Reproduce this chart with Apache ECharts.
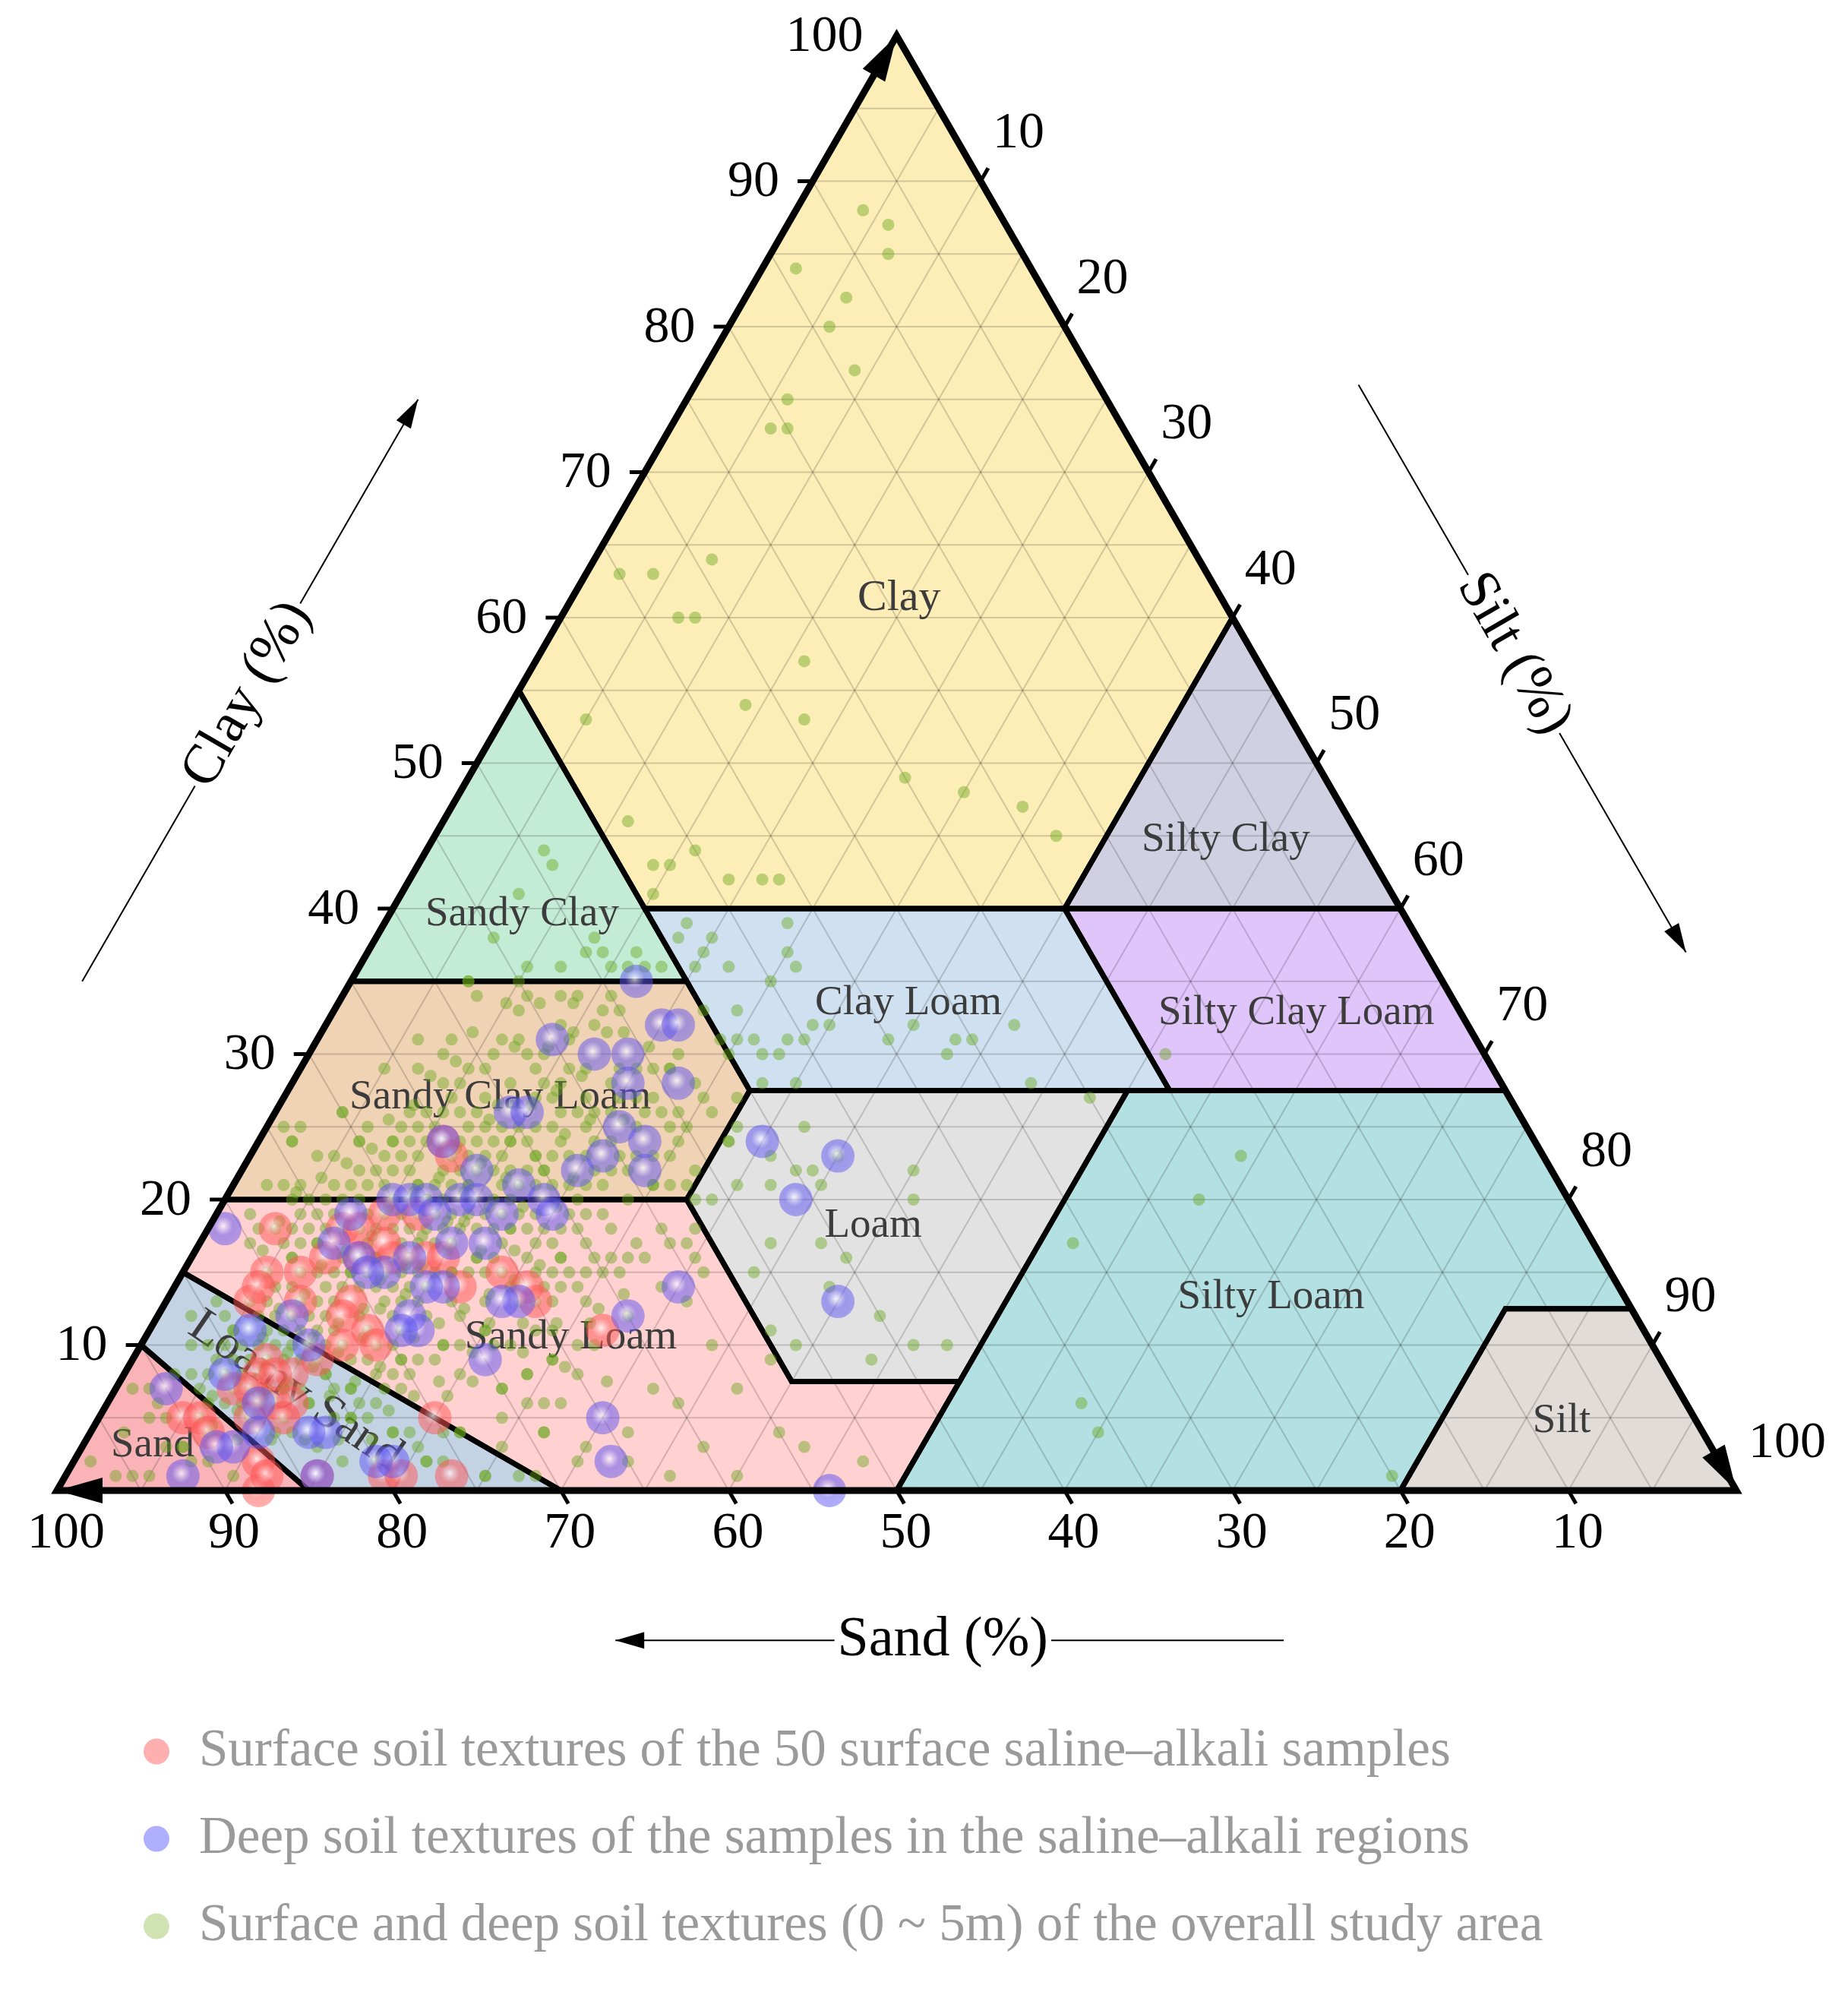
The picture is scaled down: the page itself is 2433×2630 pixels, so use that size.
<!DOCTYPE html>
<html><head><meta charset="utf-8">
<script src="https://cdn.jsdelivr.net/npm/echarts@6/dist/echarts.min.js"></script>
<style>html,body{margin:0;padding:0;background:#fff;}#chart{width:2433px;height:2630px;}</style>
</head><body><div id="chart"></div>
<script>
// all samples as [sand, silt, clay] (%)
const surfaceSamples = [
[78,4,18],[65,11,24],[65,12,23],[69,12,19],[71,10,19],[74,8,18],[76,8,16],[72,12,16],[70,14,16],[69,17,14],
[66,19,15],[65,22,13],[80,5,15],[82,5,13],[76,11,13],[77,11,12],[76,13,11],[76,14,10],[78,12,10],[80,11,9],
[82,10,8],[83,8,9],[84,8,8],[83,9,8],[86,7,7],[85,8,7],[83,11,6],[90,5,5],[89,6,5],[86,9,5],
[84,10,6],[75,20,5],[87,11,2],[84,15,1],[76,23,1],[88,12,0],[80,19,1],[73,9,18],[81,5,14],[78,7,15],
[62,27,11],[69,15,16],[72,11,17],[65,21,14],[88,7,4],[84,11,5],[79,20,1],[87,12,1],[74,10,16],[79,8,13]
];
const deepSamples = [
[48,17,35],[48,20,32],[47,21,32],[55,14,31],[53,17,30],[51,19,30],[52,20,28],[49,23,28],[60,14,26],[59,15,26],
[54,21,25],[53,23,24],[56,21,23],[54,24,22],[58,20,22],[65,11,24],[70,10,20],[69,11,20],[68,12,20],[66,14,20],
[65,15,20],[64,17,19],[61,19,20],[61,20,19],[81,1,18],[75,8,17],[74,10,16],[73,12,15],[70,16,14],[66,21,13],
[60,28,12],[56,30,14],[73,16,11],[70,21,9],[65,30,5],[66,32,2],[54,46,0],[46,30,24],[42,35,23],[46,34,20],
[47,40,13],[90,3,7],[92,7,1],[88,9,3],[82,14,4],[79,19,2],[84,15,1],[85,9,6],[86,6,8],[73,8,19],
[67,13,19],[64,14,22],[62,17,21],[68,15,17],[66,17,17],[71,13,16],[74,11,15],[71,15,14],[67,20,13],[73,15,12],
[74,15,11],[80,8,12],[80,10,10],[83,6,11],[89,8,3],[86,10,4],[83,13,4],[80,18,2]
];
const studyAreaSamples = [
[8,4,88],[7,6,87],[8,7,85],[14,2,84],[12,6,82],[13,6,80],[14,9,77],[19,6,75],[21,6,73],[20,7,73],
[29,7,64],[35,2,63],[33,4,63],[33,7,60],[32,8,60],[27,16,57],[32,14,54],[42,5,53],[29,18,53],[25,26,49],
[22,30,48],[19,34,47],[18,37,45],[37,21,42],[36,22,42],[43,11,46],[40,16,44],[42,15,43],[43,14,43],[39,19,42],
[44,15,41],[43,18,39],[44,18,38],[49,13,38],[49,14,37],[47,16,37],[47,17,36],[46,18,36],[55,7,38],[50,13,37],
[54,10,36],[52,12,36],[55,10,35],[58,7,35],[49,7,44],[49,8,43],[52,7,41],[48,16,36],[49,15,36],
[42,22,36],[38,25,37],[38,26,36],[43,20,37],[43,24,33],[43,26,31],[41,28,31],[38,30,32],[35,34,31],[33,35,32],
[27,41,32],[30,39,31],[43,27,30],[42,28,30],[32,38,30],[44,25,31],[45,22,33],[25,48,27],[19,51,30],[39,29,32],
[40,29,31],[40,25,35],[42,30,28],[44,28,28],[45,25,30],[37,24,39],[42,20,38],[44,20,36],[45,24,31],[31,38,31],[28,44,28],
[42,35,23],[43,32,25],[38,40,22],[45,39,16],[47,39,14],[49,34,17],[52,37,11],[45,43,12],[44,46,10],[47,32,21],
[48,28,24],[46,31,23],[49,30,21],[44,34,22],[45,33,22],[52,28,20],[51,29,20],[39,41,20],[45,35,21],[46,37,17],
[51,34,15],[51,39,10],[47,44,9],[42,48,10],
[31,52,17],[22,58,20],[18,59,23],[36,58,6],[36,60,4],[20,79,1],
[52,14,34],[56,11,33],[53,13,34],[50,16,34],[52,16,32],[54,14,32],[50,17,33],[61,8,31],[64,7,29],[61,10,29],
[58,11,31],[59,11,30],[57,14,29],[56,14,30],[54,15,31],[54,17,29],[56,16,28],[63,9,28],[66,8,26],[57,15,28],
[52,19,29],[50,21,29],[49,22,29],[48,24,28],[48,22,30],[51,22,27],[51,23,26],[50,25,25],[48,26,26],[46,27,27],
[47,28,25],[48,28,24],[51,27,22],[53,26,21],[54,25,21],[52,27,21],
[58,8,34],[55,11,34],[51,16,33],[62,8,30],[57,12,31],[55,16,29],[53,19,28],[51,20,29],[49,22,29],[48,25,27],
[70,4,26],[74,1,25],[74,2,24],[70,6,24],[72,5,23],[68,8,24],[67,8,25],[76,3,21],[75,4,21],[65,9,26],
[63,10,27],[62,12,26],[58,15,27],[55,18,27],[52,22,26],[51,25,24],[54,23,23],[56,22,22],[58,18,24],[60,17,23],
[61,15,24],[60,18,22],[64,14,22],[62,17,21],[59,20,21],[57,22,21],[62,13,25],[70,8,22],[68,11,21],
[58,23,19],[58,24,18],[57,26,17],[57,27,16],[54,30,16],[60,24,16],[61,24,15],[59,26,15],[63,23,14],[62,25,13],
[62,21,17],[63,19,18],[67,17,16],[69,16,15],[71,15,14],[66,20,14],[65,22,13],[57,29,14],[56,31,13],[54,31,15],
[55,27,18],[53,29,18],[60,28,12],[73,11,16],[72,13,15],[75,10,15],[78,6,16],[80,5,15],[79,3,18],[76,7,17],
[73,9,18],[70,12,18],[68,14,18],[68,12,20],[71,10,19],[74,7,19],[65,16,19],[64,18,18],
[59,25,16],[55,28,17],[54,29,17],[56,34,10],[56,37,7],[55,41,4],[54,43,3],[60,37,3],[63,36,1],[65,33,2],
[67,30,3],[68,26,6],[61,32,7],[60,34,6],[53,38,9],[59,40,1],[51,47,2],[72,25,3],[74,25,1],[71,28,1],
[65,27,8],[63,27,10],[66,23,11],[69,21,10],[72,20,8],[76,17,7],[78,18,4],[77,21,2],
[75,16,9],[75,17,8],[71,19,10],[69,20,11],[68,24,8],[66,25,9],[64,26,10],[67,27,6],[66,32,4],[68,30,2],
[69,25,6],[69,27,4],[70,23,7],[64,22,14],[61,23,15],[62,22,16],[60,23,17],
[65,11,24],[63,14,23],[61,15,24],[60,17,23],[63,15,22],[61,18,22],[65,14,21],[68,11,21],[66,16,18],[67,15,18],
[64,18,18],[63,20,17],[69,13,18],[71,12,17],[73,10,17],[75,9,16],[76,7,17],[78,6,16],[78,7,15],[74,12,14],
[73,13,14],[68,17,15],[72,15,13],[74,13,13],[77,10,13],[79,9,12],[81,7,12],[82,5,13],[82,8,10],[79,10,11],
[78,12,10],[77,14,9],[75,16,9],[84,5,11],[87,3,10],[86,5,9],[84,7,9],[87,7,6],[89,6,5],[91,6,3],
[85,11,4],[82,12,6],[80,12,8],[79,14,7],[77,16,7],[79,16,5],[77,19,4],[75,21,4],[74,22,4],[71,24,5],
[69,27,4],[70,23,7],[68,24,8],[66,25,9],[73,18,9],[72,18,10],[69,20,11],[68,22,10],[65,24,11],[64,20,16],
[63,22,15],[68,15,17],[70,11,19],[72,8,20],[75,5,20],[76,4,20],[79,2,19],[75,7,18],[65,14,21],[63,17,20],
[61,18,21],[68,8,24],[69,6,25],[74,2,24],[70,6,24],[77,2,21],
[73,2,25],[70,4,26],[66,5,29],[63,6,31],[58,7,35],[68,9,23],[73,4,23],
[97,1,2],[94,2,4],[94,5,1],[91,4,5],[91,7,2],[92,5,3],[90,7,4],[91,2,7],[89,3,8],[92,1,7],
[92,3,5],[91,3,6],[95,4,1],[90,8,2],[89,10,1],[91,6,3],[96,3,1],[88,4,8],
[84,3,13],[86,2,12],[84,5,11],[85,6,9],[80,12,8],[79,14,7],[80,15,5],[78,18,4],[77,21,2],[76,22,2],
[82,16,2],[83,14,3],[80,18,2],[74,25,1],[72,27,1],[74,22,4],[77,20,3],[83,10,7],[85,9,6],[84,12,4],
[66,12,22],[67,13,20],[69,12,19],[70,13,17],[72,12,16],[71,14,15],[73,12,15],[74,10,16],[76,9,15],[77,8,15],
[75,11,14],[76,12,12],[78,10,12],[80,9,11],[81,8,11],[79,11,10],[80,11,9],[82,9,9],[83,8,9],[81,10,9],
[84,8,8],[83,10,7],[85,8,7],[86,8,6],[84,10,6],[62,16,22],[63,16,21],[64,16,20],[65,17,18],[66,18,16],
[67,18,15],[64,12,24],[62,14,24],[60,15,25],[59,16,25],[57,17,26],[58,19,23],[56,20,24],[55,21,24],[53,22,25],
[55,23,22],[57,20,23],[59,22,19],[60,21,19],[61,21,18],[62,20,18],[60,19,21],[67,10,23],[66,10,24],[69,9,22],
[71,8,21],[72,9,19],[73,7,20],[74,8,18],[76,6,18],[77,5,18],[78,4,18],[80,3,17],
[60,16,24],[61,14,25],[62,15,23],[63,13,24],[64,13,23],[65,13,22],[66,13,21],[67,12,21],[68,12,20],[69,11,20],
[70,10,20],[71,11,18],[72,10,18],[73,11,16],[74,11,15],[75,10,15],[76,10,14],[77,9,14],[78,9,13],[79,8,13],
[80,8,12],[81,9,10],[82,7,11],[83,7,10],[84,6,10],[85,7,8],[86,6,8],[87,5,8],[88,5,7],[86,9,5],
[58,17,25],[57,16,27],[56,18,26],[55,19,26],[54,20,26],[53,20,27],[52,21,27],[56,19,25],[59,18,23],[61,17,22],
[63,18,19],[65,18,17],[67,17,16],[69,16,15],[70,17,13],[72,16,12],[74,15,11],[76,14,10],[78,13,9],[80,13,7],
[82,12,6],[84,11,5],[81,14,5],[79,15,6],[77,15,8],[75,15,10],[73,14,13],[71,13,16],[69,14,17],[67,14,19],
[65,12,23],[63,12,25],[61,12,27],[59,13,28],[57,13,30],[60,11,29],[62,10,28],[64,10,26],[66,9,25],[68,10,22],
[70,9,21],[72,7,21],[74,6,20],[76,5,19],[78,5,17],[80,6,14],[82,6,12],[84,4,12],[86,4,10],[85,5,10],
[66,21,13],[64,23,13],[62,24,14],[60,25,15],[58,26,16],[60,22,18],[62,19,19],[64,17,19],[66,15,19],[68,13,19],
[70,15,15],[72,14,14],[74,14,12],[76,13,11],[78,11,11],[80,10,10],[82,11,7],[84,9,7],[86,7,7],[88,6,6],
[59,21,20],[57,21,22],[55,22,23],[53,24,23],[51,24,25],[50,24,26],[52,25,23],[54,25,21],[56,24,20],[58,21,21],
[63,11,26],[65,10,25],[67,9,24],[69,8,23],[71,7,22],[73,6,21],[75,6,19],[77,6,17],[79,7,14],[81,6,13],
[62,22,16],[64,21,15],[66,19,15],[68,19,13],[70,18,12],[72,18,10],[74,17,9],[76,16,8],[78,16,6],[80,15,5],
[64.5,12,23.5],[66.5,12,21.5],[68.5,11,20.5],[70.5,10,19.5],[72.5,10,17.5],[74.5,9,16.5],[76.5,8,15.5],[78.5,8,13.5],[80.5,7,12.5],[82.5,7,10.5],
[63.5,14,22.5],[65.5,14,20.5],[67.5,14,18.5],[69.5,13,17.5],[71.5,13,15.5],[73.5,12,14.5],[75.5,12,12.5],[77.5,11,11.5],[79.5,10,10.5],[81.5,9,9.5],
[62.5,16,21.5],[64.5,16,19.5],[66.5,15,18.5],[68.5,15,16.5],[70.5,14,15.5],[72.5,14,13.5],[74.5,13,12.5],[76.5,13,10.5],[78.5,12,9.5],[80.5,11,8.5],
[83.5,8,8.5],[85.5,7,7.5],[87.5,6,6.5],[84.5,9,6.5],[86.5,8,5.5],[88.5,7,4.5],[82.5,10,7.5],[80.5,13,6.5],[78.5,14,7.5],[76.5,15,8.5],
[58.5,15,26.5],[56.5,16,27.5],[54.5,17,28.5],[57.5,18,24.5],[55.5,19,25.5],[53.5,21,25.5],[60.5,13,26.5],[59.5,14,26.5],[61.5,13,25.5],[58.5,20,21.5],
[55.5,14,30.5],[57.5,12,30.5],[53.5,15,31.5],[51.5,17,31.5],[56.5,10,33.5],[54.5,12,33.5],[52.5,14,33.5],[50.5,18,31.5],[49.5,20,30.5],[59.5,9,31.5],
[62.5,18,19.5],[60.5,20,19.5],[64.5,19,16.5],[66.5,17,16.5],[63.5,21,15.5],[65.5,20,14.5],[67.5,19,13.5],[69.5,18,12.5],[71.5,17,11.5],[73.5,16,10.5],
[75.5,18,6.5],[73.5,20,6.5],[71.5,21,7.5],[73.5,19,7.5],[77.5,17,5.5],[79.5,17,3.5],[81.5,15,3.5],[83.5,13,3.5],[85.5,11,3.5],[87.5,9,3.5],
[69.5,7,23.5],[71.5,6,22.5],[73.5,5,21.5],[75.5,4,20.5],[67.5,7,25.5],[65.5,8,26.5],[63.5,8,28.5],[61.5,9,29.5],[77.5,4,18.5],[79.5,4,16.5],
[68.5,20,11.5],[66.5,22,11.5],[64.5,24,11.5],[62.5,26,11.5],[70.5,20,9.5],[67.5,23,9.5],[65.5,26,8.5],[63.5,29,7.5],[61.5,26,12.5],[59.5,27,13.5]
];

const seriesNames = [
  'Surface soil textures of the 50 surface saline\u2013alkali samples',
  'Deep soil textures of the samples in the saline\u2013alkali regions',
  'Surface and deep soil textures (0 ~ 5m) of the overall study area'
];
const tickValues = [10,20,30,40,50,60,70,80,90,100];
const gridValues = [5,10,15,20,25,30,35,40,45,50,55,60,65,70,75,80,85,90,95];

// USDA texture classes, vertices as [sand, silt, clay]
const regionNames = ['Clay','Sandy Clay','Silty Clay','Sandy Clay Loam','Clay Loam','Silty Clay Loam','Loam','Silty Loam','Silt','Sandy Loam','Loamy Sand','Sand'];
const regionColors = ['#FDEDB6','#C4EBD6','#D0D0E2','#F0D3B5','#CFE0F0','#E0C5FB','#E2E2E2','#B3E0E2','#E2DCD8','#FFD1D1','#C3D3E4','#FAB3B7'];
const regionVertices = [
  [[45,0,55],[45,15,40],[20,40,40],[0,40,60],[0,0,100]],
  [[65,0,35],[45,20,35],[45,15,40],[45,0,55]],
  [[20,40,40],[0,60,40],[0,40,60]],
  [[80,0,20],[52.5,27.5,20],[45,27.5,27.5],[45,20,35],[65,0,35]],
  [[45,15,40],[20,40,40],[20,52.5,27.5],[45,27.5,27.5],[45,20,35]],
  [[20,40,40],[0,60,40],[0,72.5,27.5],[20,52.5,27.5]],
  [[45,27.5,27.5],[22.5,50,27.5],[42.5,50,7.5],[52.5,40,7.5],[52.5,27.5,20]],
  [[22.5,50,27.5],[0,72.5,27.5],[0,87.5,12.5],[7.5,80,12.5],[20,80,0],[50,50,0],[42.5,50,7.5]],
  [[7.5,80,12.5],[0,87.5,12.5],[0,100,0],[20,80,0]],
  [[80,0,20],[52.5,27.5,20],[52.5,40,7.5],[42.5,50,7.5],[50,50,0],[70,30,0],[85,0,15]],
  [[85,0,15],[70,30,0],[85,15,0],[90,0,10]],
  [[90,0,10],[85,15,0],[100,0,0]]
];
const regionLabelPos = [
  [19.2,19.5,61.3],[52.5,7.9,39.6],[8.05,47.25,44.7],[60.1,12.9,27],[32.55,33.95,33.5],[9.8,57.4,32.8],
  [42.3,39.5,18.2],[21.05,65.65,13.3],[8,87.2,4.8],[64.15,25.35,10.5],[82.4,10.8,6.8],[92.75,4.15,3.1]
];
const regionLabelRot = [0,0,0,0,0,0,0,0,0,0,-0.6,0];
const regionLabelSize = [58,55,55,55,55,55,55,55,55,55,64,55];

const SQ = Math.sqrt(3)/2;
function T(p){ return [p[1] + p[2]/2, p[2]*SQ]; }
const SERIF = '"Times New Roman","Liberation Serif",serif';

const chart = echarts.init(document.getElementById('chart'));

function arrowHead(tip, from, len, hw){
  const dx = tip[0]-from[0], dy = tip[1]-from[1];
  const L = Math.sqrt(dx*dx+dy*dy); const ux = dx/L, uy = dy/L;
  const bx = tip[0]-ux*len, by = tip[1]-uy*len;
  return {type:'polygon', shape:{points:[tip,[bx-uy*hw, by+ux*hw],[bx+uy*hw, by-ux*hw]]}, style:{fill:'#000'}};
}
function seg(a,b,w,color){
  return {type:'line', shape:{x1:a[0],y1:a[1],x2:b[0],y2:b[1]}, style:{stroke:color||'#000', lineWidth:w, lineCap:'butt'}};
}
function sphere(rgbOuter, rgbMid){
  return {type:'radial', x:0.45, y:0.42, r:0.58, colorStops:[
    {offset:0, color:'rgba(255,255,255,0.92)'},
    {offset:0.2, color:'rgba('+rgbMid+',0.78)'},
    {offset:0.5, color:'rgba('+rgbOuter+',0.66)'},
    {offset:1, color:'rgba('+rgbOuter+',0.6)'}
  ]};
}

const option = {
  animation:false,
  backgroundColor:'#fff',
  grid:{left:75, top:47, width:2211, height:1915, containLabel:false},
  xAxis:{type:'value', min:0, max:100, show:false},
  yAxis:{type:'value', min:0, max:100*SQ, show:false},
  legend:{
    orient:'vertical', left:184, top:2266, itemWidth:34, itemHeight:34, itemGap:46, icon:'circle',
    selectedMode:false,
    textStyle:{fontSize:69, color:'#9a9a9a', fontFamily:SERIF, padding:[0,0,0,34]},
    data:[
      {name:seriesNames[0], itemStyle:{color:'#FF9B9B'}},
      {name:seriesNames[1], itemStyle:{color:'#9B9BFF'}},
      {name:seriesNames[2], itemStyle:{color:'#C6DCA0'}}
    ]
  },
  series:[
    {
      type:'custom', coordinateSystem:'cartesian2d', silent:true, z:1,
      data: regionNames.map((n,i)=>T(regionLabelPos[i])),
      renderItem:function(params, api){
        const pts = regionVertices[params.dataIndex].map(v=>api.coord(T(v)));
        return {type:'polygon', shape:{points:pts}, style:{fill:regionColors[params.dataIndex]}};
      }
    },
    {
      type:'custom', coordinateSystem:'cartesian2d', silent:true, z:2,
      data:[[50,40]],
      renderItem:function(params, api){
        const P = v=>api.coord(T(v)); const ch=[]; const gc='rgba(0,0,0,0.17)';
        gridValues.forEach(g=>{
          ch.push(seg(P([100-g,0,g]), P([0,100-g,g]), 2, gc));
          ch.push(seg(P([g,0,100-g]), P([g,100-g,0]), 2, gc));
          ch.push(seg(P([100-g,g,0]), P([0,g,100-g]), 2, gc));
        });
        return {type:'group', children:ch};
      }
    },
    {
      type:'custom', coordinateSystem:'cartesian2d', silent:true, z:3,
      data: regionNames.map((n,i)=>T(regionLabelPos[i])),
      renderItem:function(params, api){
        const i = params.dataIndex; const p = api.coord(T(regionLabelPos[i]));
        return {type:'text', x:p[0], y:p[1], rotation:regionLabelRot[i],
          style:{text:regionNames[i], fill:'#3c3c3c', fontSize:regionLabelSize[i], fontFamily:SERIF, align:'center', verticalAlign:'middle'}};
      }
    },
    {
      type:'custom', coordinateSystem:'cartesian2d', silent:true, z:4,
      data: regionNames.map((n,i)=>T(regionLabelPos[i])),
      renderItem:function(params, api){
        const pts = regionVertices[params.dataIndex].map(v=>api.coord(T(v)));
        return {type:'polygon', shape:{points:pts}, style:{fill:'none', stroke:'#000', lineWidth:7, lineJoin:'miter'}};
      }
    },
    {
      type:'scatter', name:seriesNames[2], z:5, silent:true, clip:false,
      data: studyAreaSamples.map(T), symbolSize:16,
      itemStyle:{color:'rgba(102,166,25,0.55)'}
    },
    {
      type:'scatter', name:seriesNames[0], z:6, silent:true, clip:false,
      data: surfaceSamples.map(T), symbolSize:44,
      itemStyle:{color:sphere('255,85,85','255,185,185')}
    },
    {
      type:'scatter', name:seriesNames[1], z:7, silent:true, clip:false,
      data: deepSamples.map(T), symbolSize:44,
      itemStyle:{color:sphere('95,85,240','195,190,255')}
    },
    {
      type:'custom', coordinateSystem:'cartesian2d', silent:true, z:8,
      data:[[50,40]],
      renderItem:function(params, api){
        const P = v=>api.coord(T(v)); const ch=[];
        const A=P([100,0,0]), B=P([0,100,0]), C=P([0,0,100]);
        ch.push({type:'polygon', shape:{points:[A,B,C]}, style:{fill:'none', stroke:'#000', lineWidth:9, lineJoin:'miter'}});
        const d=0.9;
        tickValues.forEach(v=>{
          if(v<100){
            ch.push(seg(P([100-v,0,v]), P([100-v+d,-d,v]), 5));
            ch.push(seg(P([v,100-v,0]), P([v,100-v+d,-d]), 5));
            ch.push(seg(P([0,v,100-v]), P([-d,v,100-v+d]), 5));
          }
          const lf = {fontSize:68, fontFamily:SERIF, fill:'#000'};
          const cl = P([100-v,0,v]);
          ch.push({type:'text', x:cl[0]-44, y:cl[1]+2, style:Object.assign({text:String(v), align:'right', verticalAlign:'middle'}, lf)});
          const sd = P([v,100-v,0]);
          ch.push({type:'text', x:sd[0]+12, y:sd[1]+57, style:Object.assign({text:String(v), align:'center', verticalAlign:'middle'}, lf)});
          const st = P([0,v,100-v]);
          ch.push({type:'text', x:st[0]+16, y:st[1]-62, style:Object.assign({text:String(v), align:'left', verticalAlign:'middle'}, lf)});
        });
        ch.push(arrowHead(C, A, 60, 17));
        ch.push(arrowHead(A, B, 60, 17));
        ch.push(arrowHead(B, C, 60, 17));
        const tf = {fontSize:74, fontFamily:SERIF, fill:'#000', align:'center', verticalAlign:'middle', backgroundColor:'#fff', padding:[0,4]};
        const c1=P([81,-16,35]), c2=P([41,-16,75]);
        ch.push(seg(c1,c2,2)); ch.push(arrowHead(c2,c1,38,11));
        const ct=P([61.3,-16,54.7]);
        ch.push({type:'text', x:ct[0], y:ct[1], rotation:Math.PI/3, z2:10, style:Object.assign({text:'Clay (%)'}, tf)});
        const s1=P([-15.5,39.5,76]), s2=P([-15.5,78.5,37]);
        ch.push(seg(s1,s2,2)); ch.push(arrowHead(s2,s1,38,11));
        const stt=P([-15.5,58,57.5]);
        ch.push({type:'text', x:stt[0], y:stt[1], rotation:-Math.PI/3, z2:10, style:Object.assign({text:'Silt (%)'}, tf)});
        const a1=P([32.1,78.2,-10.3]), a2=P([71.9,38.4,-10.3]);
        ch.push(seg(a1,a2,2)); ch.push(arrowHead(a2,a1,38,11));
        const at=P([52.4,57.9,-10.3]);
        ch.push({type:'text', x:at[0], y:at[1], z2:10, style:Object.assign({text:'Sand (%)'}, tf)});
        return {type:'group', children:ch};
      }
    }
  ]
};
chart.setOption(option);
</script>
</body></html>
